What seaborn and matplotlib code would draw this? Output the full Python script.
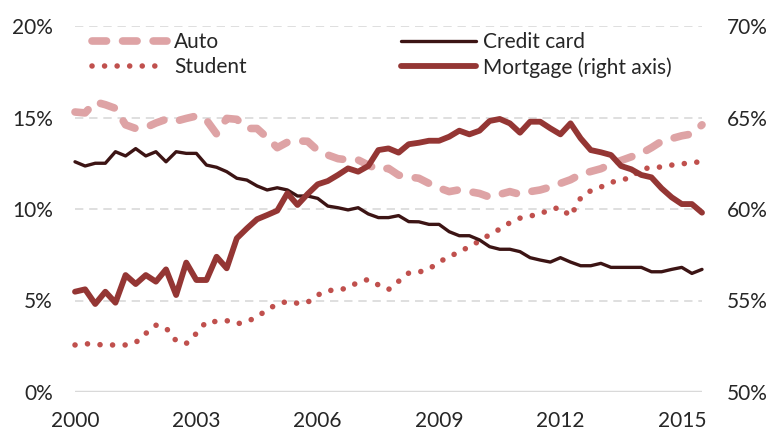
import numpy as np
import pandas as pd
import matplotlib
matplotlib.use("Agg")
import matplotlib.pyplot as plt
import seaborn as sns

# quarterly shares of new debt, 2000Q1 .. 2015Q3
years = 2000 + 0.25 * np.arange(63)

auto = [15.3, 15.25, 15.85, 15.7, 15.5, 14.6, 14.4, 14.45, 14.7, 14.9,
        14.8, 14.95, 15.08, 14.86, 14.1, 14.95, 14.9, 14.4, 14.4, 13.9,
        13.35, 13.65, 13.72, 13.7, 13.2, 12.95, 12.75, 12.68, 12.68, 12.4,
        12.15, 12.22, 11.85, 11.75, 11.68, 11.4, 11.15, 10.95, 11.05, 10.95,
        10.85, 10.65, 10.8, 10.95, 10.8, 10.95, 11.04, 11.2, 11.4, 11.6,
        11.9, 12.05, 12.2, 12.45, 12.65, 12.85, 13.04, 13.35, 13.7, 13.85,
        14.0, 14.1, 14.6]

credit_card = [12.58, 12.35, 12.5, 12.5, 13.13, 12.9, 13.3, 12.9, 13.13, 12.58,
               13.13, 13.04, 13.04, 12.4, 12.28, 12.04, 11.68, 11.58, 11.26, 11.04,
               11.16, 11.04, 10.71, 10.71, 10.58, 10.16, 10.07, 9.95, 10.07, 9.73,
               9.53, 9.53, 9.64, 9.31, 9.3, 9.16, 9.16, 8.76, 8.54, 8.54,
               8.31, 7.94, 7.8, 7.8, 7.67, 7.34, 7.21, 7.1, 7.34, 7.1,
               6.9, 6.9, 7.03, 6.81, 6.81, 6.81, 6.81, 6.57, 6.57, 6.7,
               6.81, 6.48, 6.7]

student = [2.57, 2.64, 2.6, 2.57, 2.57, 2.57, 2.7, 3.2, 3.65, 3.5,
           2.8, 2.65, 3.2, 3.85, 3.85, 3.9, 3.72, 3.85, 4.1, 4.5,
           4.8, 4.95, 4.85, 4.9, 5.3, 5.55, 5.56, 5.7, 6.0, 6.15,
           5.85, 5.6, 6.05, 6.5, 6.55, 6.72, 7.1, 7.4, 7.65, 7.95,
           8.25, 8.6, 8.9, 9.25, 9.5, 9.62, 9.72, 10.0, 10.07, 9.6,
           10.6, 11.0, 11.2, 11.45, 11.6, 11.7, 12.2, 12.25, 12.3, 12.4,
           12.47, 12.52, 12.6]

mortgage = [55.48, 55.61, 54.81, 55.48, 54.88, 56.39, 55.9, 56.39, 56.03, 56.7,
            55.3, 57.07, 56.12, 56.12, 57.39, 56.76, 58.4, 58.94, 59.44, 59.67,
            59.91, 60.86, 60.22, 60.82, 61.35, 61.53, 61.86, 62.22, 62.04, 62.35,
            63.22, 63.31, 63.08, 63.54, 63.62, 63.73, 63.73, 63.95, 64.28, 64.08,
            64.28, 64.81, 64.92, 64.68, 64.17, 64.77, 64.77, 64.41, 64.08, 64.68,
            63.86, 63.22, 63.1, 62.95, 62.35, 62.17, 61.86, 61.73, 61.13, 60.64,
            60.27, 60.27, 59.8]

left_ticks = [0, 5, 10, 15, 20]
right_ticks = [50, 55, 60, 65, 70]
x_ticks = [2000, 2003, 2006, 2009, 2012, 2015]

df = pd.DataFrame({"year": years, "Auto": auto, "Credit card": credit_card,
                   "Student": student, "Mortgage": mortgage})

sns.set_style("white")
plt.rcParams['font.family'] = ['Lato', 'DejaVu Sans']
plt.rcParams['font.size'] = 15

fig = plt.figure(figsize=(7.7, 4.32), dpi=100)
ax = fig.add_axes([75 / 770, 40 / 432, 627 / 770, 366 / 432])
ax2 = ax.twinx()

grid_col = "#D9D9D9"
for v in left_ticks[1:]:
    ax.axhline(v, color=grid_col, lw=1.2, ls=(0, (5, 3.5)), zorder=0)
ax.axhline(0, color=grid_col, lw=2.5, zorder=0)

sns.lineplot(data=df, x="year", y="Auto", ax=ax, color="#DEA3A5", lw=5.5,
             linestyle=(0, (1.9, 2.1)), dash_capstyle="round", clip_on=False, label="Auto")
sns.lineplot(data=df, x="year", y="Student", ax=ax, color="#C0504D", lw=4.0,
             linestyle=(0, (0.01, 2.25)), dash_capstyle="round", clip_on=False, label="Student")
sns.lineplot(data=df, x="year", y="Credit card", ax=ax, color="#3C1414", lw=2.4,
             clip_on=False, label="Credit card")
sns.lineplot(data=df, x="year", y="Mortgage", ax=ax2, color="#943634", lw=4.2,
             clip_on=False, label="Mortgage (right axis)")

ax.set_xlim(2000, 2015.5)
ax.set_ylim(0, 20)
ax2.set_ylim(50, 70)
ax.set_xticks(x_ticks)
ax.set_yticks(left_ticks)
ax.set_yticklabels([f"{v}%" for v in left_ticks])
ax2.set_yticks(right_ticks)
ax2.set_yticklabels([f"{v}%" for v in right_ticks])
ax.set_xlabel("")
ax.set_ylabel("")
ax2.set_ylabel("")
ax.tick_params(axis="y", length=0, pad=16, labelsize=15)
ax.tick_params(axis="x", length=0, pad=14, labelsize=15)
ax2.tick_params(axis="y", length=0, pad=18, labelsize=15)
for a in (ax, ax2):
    for s in a.spines.values():
        s.set_visible(False)

h1, l1 = ax.get_legend_handles_labels()
h2, l2 = ax2.get_legend_handles_labels()
if ax.get_legend():
    ax.get_legend().remove()
ax2.legend(h1 + h2, l1 + l2, ncol=2,
           loc="upper left", bbox_to_anchor=(0.027, 0.984), frameon=False,
           handlelength=3.6, handletextpad=0.35, columnspacing=7.4,
           labelspacing=0.25, borderpad=0, borderaxespad=0, fontsize=15)

fig.savefig("out.png", dpi=100)
